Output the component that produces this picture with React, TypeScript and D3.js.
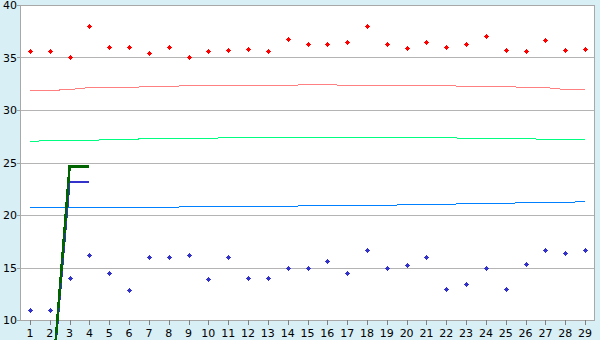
import React from "react";
import * as d3 from "d3";

const categories = Array.from({ length: 29 }, (_, i) => String(i + 1));
const redPoints = [35.6, 35.6, 35.0, 38.0, 36.0, 36.0, 35.4, 36.0, 35.0, 35.6, 35.7, 35.8, 35.6, 36.8, 36.3, 36.3, 36.5, 38.0, 36.3, 35.9, 36.45, 36.0, 36.3, 37.0, 35.7, 35.6, 36.7, 35.7, 35.8];
const bluePoints = [11.0, 11.0, 14.0, 16.2, 14.45, 12.85, 16.0, 16.0, 16.15, 13.9, 16.0, 14.0, 14.0, 15.0, 15.0, 15.6, 14.45, 16.7, 15.0, 15.2, 16.0, 13.0, 13.4, 15.0, 13.0, 15.3, 16.7, 16.35, 16.65];
const pinkLine = [31.86, 31.86, 31.95, 32.14, 32.14, 32.14, 32.24, 32.24, 32.33, 32.33, 32.33, 32.33, 32.33, 32.33, 32.43, 32.43, 32.33, 32.33, 32.33, 32.33, 32.33, 32.33, 32.24, 32.24, 32.24, 32.14, 32.14, 31.95, 31.95];
const greenLine = [27.0, 27.1, 27.1, 27.1, 27.19, 27.19, 27.29, 27.29, 27.29, 27.29, 27.38, 27.38, 27.38, 27.38, 27.38, 27.38, 27.38, 27.38, 27.38, 27.38, 27.38, 27.38, 27.29, 27.29, 27.29, 27.29, 27.19, 27.19, 27.19];
const blueLine = [20.71, 20.71, 20.71, 20.71, 20.71, 20.71, 20.71, 20.71, 20.81, 20.81, 20.81, 20.81, 20.81, 20.81, 20.9, 20.9, 20.9, 20.9, 20.9, 21.0, 21.0, 21.0, 21.1, 21.1, 21.1, 21.19, 21.19, 21.19, 21.29];
const greenThickCats = ["2", "3", "4"];
const greenThick = [1.0, 24.6, 24.6];
const blueThickCats = ["2", "3", "4"];
const blueThick = [1.0, 23.1, 23.1];
const yTicks = [10, 15, 20, 25, 30, 35, 40];

const W = 600, H = 340;
const L = 20, R = 595, T = 5, B = 320;

export default function App() {
  const x = d3.scaleBand<string>().domain(categories).range([L, R]).padding(0);
  const cx = (c: string) => (x(c) as number) + x.bandwidth() / 2;
  const y = d3.scaleLinear().domain([10, 40]).range([B, T]);
  const line = d3.line<[string, number]>().x((d) => cx(d[0])).y((d) => y(d[1]));
  const zip = (cs: string[], vs: number[]) => cs.map((c, i) => [c, vs[i]] as [string, number]);
  const marker = (px: number, py: number, color: string, key: string) => {
    const mx = Math.round(px), my = Math.round(py);
    return (
      <g key={key} fill={color} shapeRendering="crispEdges">
        <rect x={mx - 2} y={my} width={5} height={1} />
        <rect x={mx} y={my - 2} width={1} height={5} />
        <rect x={mx - 1} y={my - 1} width={3} height={3} />
      </g>
    );
  };
  const font = "'DejaVu Sans', Verdana, sans-serif";
  return (
    <svg width={W} height={H} style={{ position: "absolute", left: 0, top: 0 }}>
      <rect x={0} y={0} width={W} height={H} fill="#d8eff6" />
      <rect x={L} y={T} width={R - L} height={B - T} fill="#ffffff" />
      {yTicks.map((t) => (
        <g key={t} shapeRendering="crispEdges">
          <line x1={L} x2={R} y1={Math.round(y(t)) + 0.5} y2={Math.round(y(t)) + 0.5} stroke="#b4b4b4" />
          <line x1={L - 3} x2={L} y1={Math.round(y(t)) + 0.5} y2={Math.round(y(t)) + 0.5} stroke="#a0a0a0" />
          <text x={L - 3} y={y(t) + 4} textAnchor="end" fontFamily={font} fontSize={11} fill="#000">{t}</text>
        </g>
      ))}
      <rect x={L + 0.5} y={T + 0.5} width={R - L - 1} height={B - T} fill="none" stroke="#a8a8a8" shapeRendering="crispEdges" />
      {categories.map((c) => (
        <g key={c} shapeRendering="crispEdges">
          <line x1={Math.round(cx(c)) + 0.5} x2={Math.round(cx(c)) + 0.5} y1={B} y2={B + 5} stroke="#808080" />
          <text x={cx(c)} y={337} textAnchor="middle" fontFamily={font} fontSize={11} fill="#000">{c}</text>
        </g>
      ))}
      <path d={line(zip(categories, pinkLine)) || ""} fill="none" stroke="#ff8080" strokeWidth={1} shapeRendering="crispEdges" />
      <path d={line(zip(categories, greenLine)) || ""} fill="none" stroke="#00ff80" strokeWidth={1} shapeRendering="crispEdges" />
      <path d={line(zip(categories, blueLine)) || ""} fill="none" stroke="#0080ff" strokeWidth={1} shapeRendering="crispEdges" />
      {redPoints.map((v, i) => marker(cx(categories[i]), y(v), "#ff0000", "r" + i))}
      {bluePoints.map((v, i) => marker(cx(categories[i]), y(v), "#3333cc", "b" + i))}
      <path d={line(zip(blueThickCats, blueThick)) || ""} fill="none" stroke="#3333cc" strokeWidth={2} shapeRendering="crispEdges" />
      <path d={line(zip(greenThickCats, greenThick)) || ""} fill="none" stroke="#006400" strokeWidth={2.5} shapeRendering="crispEdges" />
    </svg>
  );
}
